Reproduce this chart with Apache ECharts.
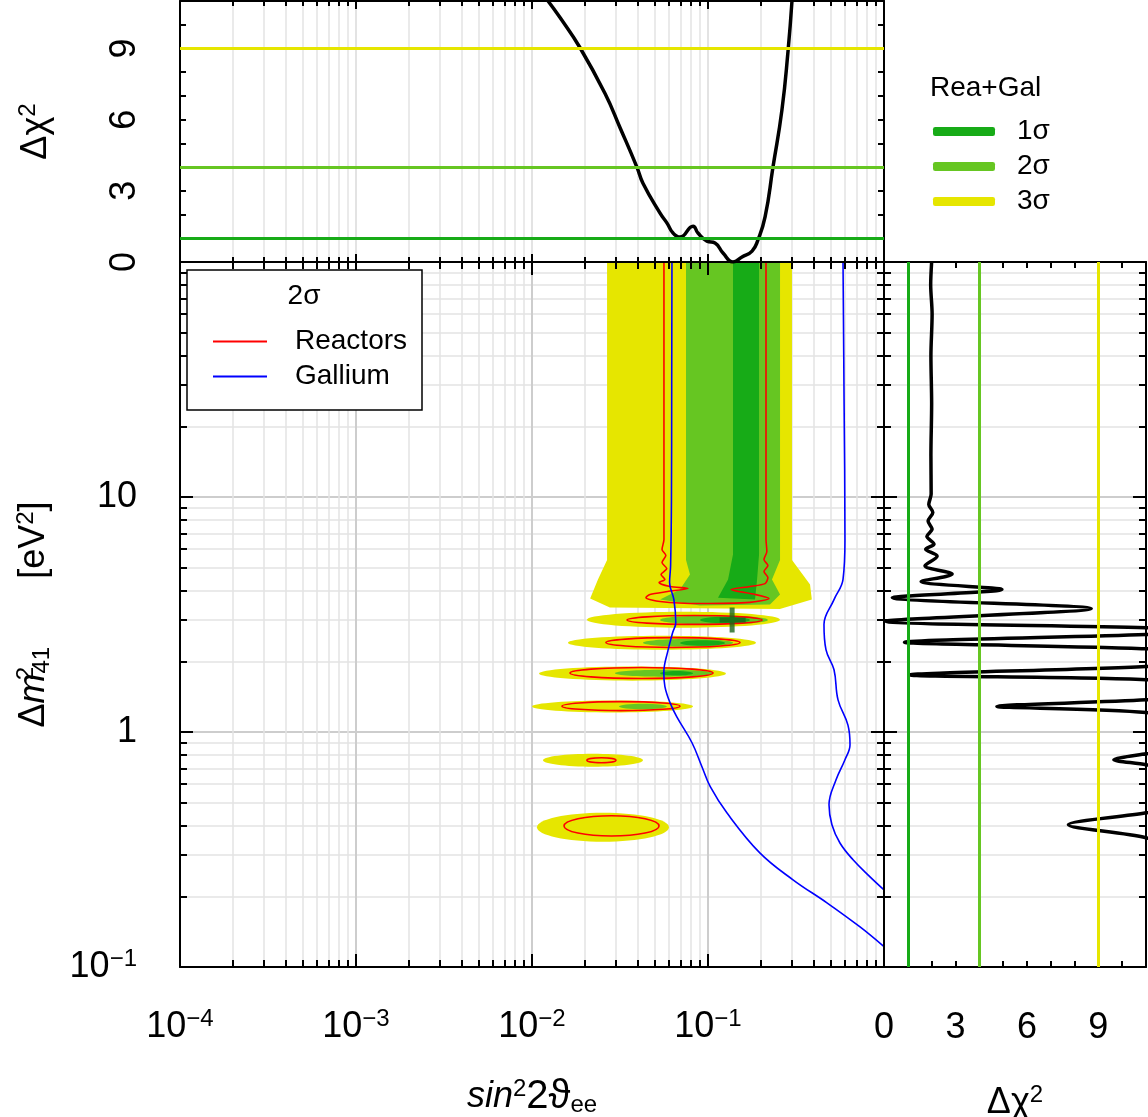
<!DOCTYPE html>
<html>
<head>
<meta charset="utf-8">
<script src="https://cdn.jsdelivr.net/npm/echarts@6/dist/echarts.min.js"></script>
<style>
  html, body { margin: 0; padding: 0; background: #fff; }
  #chart { width: 1148px; height: 1117px; }
</style>
</head>
<body>
<div id="chart"></div>
<script>
// ============================================================
// Rea+Gal: sin^2 2θee – Δm²41 plane with Δχ² profiles
// ============================================================

const FONT = '"Liberation Sans", Arial, "DejaVu Sans", sans-serif';

// ---- axis ticks / labels ----
const sinDecades = [0.0001, 0.001, 0.01, 0.1, 1];
const sinDecadeLabels = ['{b|10}{s|−4}', '{b|10}{s|−3}', '{b|10}{s|−2}', '{b|10}{s|−1}', ''];
const dmDecades = [0.1, 1, 10, 100];
const dmDecadeLabels = ['{b|10}{s|−1}', '{b|1}', '{b|10}', ''];
const minorSteps = [2, 3, 4, 5, 6, 7, 8, 9];
const chiTickLabels = [0, 3, 6, 9];

// ---- confidence levels (Rea+Gal) ----
const sigmaNames = ['1σ', '2σ', '3σ'];
const sigmaChi2 = [1, 4, 9];
const sigmaColors = ['#17ab17', '#66c622', '#e6e600'];

// ---- filled regions, [sin², Δm²] outlines ----
const band3 = [[0.0267, 100], [0.0267, 5.4], [0.0237, 4.46], [0.0214, 3.7], [0.0277, 3.39],
  [0.256, 3.34], [0.389, 3.66], [0.38, 4.24], [0.3, 5.4], [0.3, 100]];
const band2 = [[0.075, 100], [0.075, 5.4], [0.079, 4.68], [0.0693, 4.04], [0.0534, 3.66], [0.0901, 3.45],
  [0.225, 3.49], [0.2566, 3.85], [0.231, 4.46], [0.2566, 5.4], [0.2566, 100]];
const band1 = [[0.1387, 100], [0.1387, 5.69], [0.130, 4.46], [0.114, 3.73], [0.185, 3.66],
  [0.190, 4.46], [0.195, 5.69], [0.195, 100]];

// islands: [sinMin, sinMax, dmMin, dmMax]
const islands3 = [[0.0205, 0.2566, 2.78, 3.25], [0.0160, 0.1874, 2.24, 2.57], [0.01096, 0.1265, 1.654, 1.90],
  [0.0100, 0.0822, 1.21, 1.36], [0.01155, 0.0427, 0.712, 0.808], [0.01067, 0.060, 0.341, 0.453]];
const islands2 = [[0.0534, 0.219, 2.87, 3.13], [0.0427, 0.139, 2.31, 2.49], [0.0296, 0.1068, 1.72, 1.84],
  [0.0312, 0.0584, 1.25, 1.32]];
const islands1 = [[0.0901, 0.173, 2.90, 3.09], [0.0693, 0.125, 2.33, 2.46], [0.0534, 0.0822, 1.74, 1.82]];

// ---- Reactors 2σ contour ----
const reactorsBand = [[0.0562, 100], [0.0562, 6.6], [0.0548, 5.98], [0.0576, 5.64], [0.0548, 5.26], [0.0583, 4.96],
  [0.0541, 4.68], [0.0569, 4.46], [0.0527, 4.33], [0.0609, 4.16], [0.077, 4.08], [0.059, 3.96], [0.0468, 3.85],
  [0.0444, 3.73], [0.0534, 3.59], [0.0901, 3.52], [0.173, 3.56], [0.222, 3.70], [0.185, 3.85], [0.135, 4.04],
  [0.173, 4.16], [0.211, 4.28], [0.219, 4.54], [0.208, 4.82], [0.219, 5.11], [0.208, 5.42], [0.216, 5.86],
  [0.2136, 6.6], [0.2136, 100]];
const reactorsIslands = [[0.0347, 0.2027, 2.87, 3.13], [0.0263, 0.152, 2.29, 2.52], [0.01644, 0.1068, 1.69, 1.88],
  [0.01481, 0.0693, 1.233, 1.346], [0.0205, 0.030, 0.740, 0.777], [0.0152, 0.0527, 0.361, 0.44]];

// ---- Gallium 2σ contour (two branches) ----
const galliumLeft = [[0.0624, 100], [0.0622, 30], [0.062, 9.8], [0.0613, 5.1], [0.0605, 4.33], [0.064, 3.66],
  [0.0656, 2.92], [0.063, 2.65], [0.0594, 2.24], [0.0561, 1.79], [0.0569, 1.56], [0.0609, 1.33], [0.0665, 1.16],
  [0.0811, 0.90], [0.0925, 0.71], [0.103, 0.585], [0.128, 0.453], [0.197, 0.306], [0.304, 0.235],
  [0.474, 0.1875], [0.731, 0.148], [1.0, 0.122]];
const galliumRight = [[0.585, 100], [0.593, 26], [0.60, 6.6], [0.585, 4.46], [0.52, 3.66], [0.456, 2.87],
  [0.468, 2.24], [0.52, 1.84], [0.548, 1.37], [0.624, 1.07], [0.641, 0.883], [0.60, 0.762], [0.534, 0.626],
  [0.487, 0.49], [0.506, 0.403], [0.562, 0.337], [0.667, 0.286], [0.833, 0.242], [1.0, 0.213]];

const bestFit = [[0.138, 3.0]];

// ---- Δχ² profiles ----
// top: [sin², Δχ²]
const chi2VsSin = [[0.01233, 11.0], [0.01443, 10.3], [0.01875, 9.03], [0.026, 7.1], [0.0316, 5.67], [0.0395, 3.99],
  [0.0427, 3.32], [0.0534, 2.06], [0.0585, 1.64], [0.0633, 1.22], [0.0693, 1.05], [0.0822, 1.51], [0.0877, 1.22],
  [0.0987, 0.88], [0.1096, 0.80], [0.1217, 0.38], [0.1387, 0.0], [0.156, 0.21], [0.178, 0.46], [0.192, 0.92],
  [0.211, 1.9], [0.234, 4.0], [0.263, 6.4], [0.285, 8.9], [0.300, 11.0]];
// right: [Δχ², Δm²]
const chi2VsDm = [[2.0, 100], [1.96, 80], [2.02, 60], [1.97, 40], [2.0, 25], [1.97, 15], [1.98, 10.3], [1.88, 9.3],
  [2.05, 8.6], [1.85, 7.9], [2.02, 7.3], [1.8, 6.8], [2.1, 6.3], [1.75, 6.0], [2.23, 5.6], [1.72, 5.1], [2.86, 4.7],
  [1.56, 4.37], [4.95, 4.04], [0.35, 3.73], [8.7, 3.35], [0.07, 2.96], [11, 2.78], [14, 2.69], [11, 2.60],
  [0.86, 2.41], [11, 2.26], [16, 2.09], [11, 1.90], [1.09, 1.75], [11, 1.67], [16, 1.51], [11, 1.37],
  [4.74, 1.285], [11, 1.21], [16, 0.98], [11, 0.808], [9.65, 0.762], [11, 0.726], [16, 0.57], [11, 0.453],
  [7.74, 0.403], [11, 0.355], [20, 0.2], [25, 0.1]];

// ============================================================
// helpers
// ============================================================
const minorOf = decades => decades.slice(0, -1).flatMap(d => minorSteps.map(m => +(d * m).toPrecision(4)));
const sinMinor = minorOf(sinDecades);
const dmMinor = minorOf(dmDecades);
const SIN_RANGE = [0.0001, 1];
const DM_RANGE = [0.1, 100];
const CHI_RANGE = [0, 11];

const labelRich = {
  b: { fontSize: 36, lineHeight: 40, fontFamily: FONT, color: '#000' },
  s: { fontSize: 24, lineHeight: 18, verticalAlign: 'top', fontFamily: FONT, color: '#000' },
};
const nameRich = {
  b: { fontSize: 36, lineHeight: 40, fontFamily: FONT, color: '#000' },
  i: { fontSize: 36, lineHeight: 40, fontStyle: 'italic', fontFamily: FONT, color: '#000' },
  s: { fontSize: 24, lineHeight: 18, verticalAlign: 'top', fontFamily: FONT, color: '#000' },
  t: { fontSize: 24, lineHeight: 18, verticalAlign: 'top', width: 0, fontFamily: FONT, color: '#000' },
  u: { fontSize: 24, lineHeight: 16, verticalAlign: 'bottom', fontFamily: FONT, color: '#000' },
  w: { fontSize: 40, lineHeight: 40, fontFamily: FONT, color: '#000' },
  g: { width: 68 },
};

function decadeLabel(ticks, labels) {
  return v => {
    const i = ticks.findIndex(t => Math.abs(t - v) / t < 1e-6);
    return i < 0 ? '' : labels[i];
  };
}

const AXIS_LINE = { show: true, onZero: false, lineStyle: { color: '#000', width: 2 } };

function ticks(len, values) {
  const t = { show: true, inside: true, length: len, lineStyle: { color: '#000', width: 2 } };
  if (values) t.customValues = values;
  return t;
}

function axis(type, grid, pos, range, extra) {
  return Object.assign({
    type, gridIndex: grid, position: pos, min: range[0], max: range[1], z: 4, silent: true,
    axisLine: { show: false, onZero: false }, axisTick: { show: false },
    axisLabel: { show: false }, splitLine: { show: false },
  }, type === 'log' ? { logBase: 10 } : { interval: 1 }, extra);
}

function gridLines(grid, pos, range, values, color, width) {
  return axis('log', grid, pos, range, {
    z: 0,
    axisTick: values ? { show: false, customValues: values } : { show: false },
    splitLine: { show: true, lineStyle: { color, width } },
  });
}

// ============================================================
// axes
// ============================================================
const xAxes = [
  // main grid (0)
  axis('log', 0, 'bottom', SIN_RANGE, {
    axisLine: AXIS_LINE, axisTick: ticks(13),
    axisLabel: { show: true, margin: 40, formatter: decadeLabel(sinDecades, sinDecadeLabels), rich: labelRich },
    name: '{i|sin}{s|2}{w|2ϑ}{u|ee}', nameLocation: 'middle', nameGap: 110,
    nameTextStyle: { rich: nameRich },
  }),
  axis('log', 0, 'bottom', SIN_RANGE, { axisTick: ticks(7, sinMinor) }),
  axis('log', 0, 'top', SIN_RANGE, { axisLine: AXIS_LINE, axisTick: ticks(13) }),
  axis('log', 0, 'top', SIN_RANGE, { axisTick: ticks(7, sinMinor) }),
  gridLines(0, 'bottom', SIN_RANGE, sinMinor, '#e3e3e3', 1.5),
  gridLines(0, 'bottom', SIN_RANGE, null, '#cdcdcd', 2),
  // top grid (1)
  axis('log', 1, 'bottom', SIN_RANGE, { axisLine: AXIS_LINE, axisTick: ticks(8) }),
  axis('log', 1, 'bottom', SIN_RANGE, { axisTick: ticks(5, sinMinor) }),
  axis('log', 1, 'top', SIN_RANGE, { axisLine: AXIS_LINE, axisTick: ticks(8) }),
  axis('log', 1, 'top', SIN_RANGE, { axisTick: ticks(5, sinMinor) }),
  gridLines(1, 'bottom', SIN_RANGE, sinMinor, '#e3e3e3', 1.5),
  gridLines(1, 'bottom', SIN_RANGE, null, '#dadada', 1.5),
  // right grid (2)
  axis('value', 2, 'bottom', CHI_RANGE, {
    axisLine: AXIS_LINE, axisTick: ticks(6),
    axisLabel: {
      show: true, margin: 43, fontSize: 36, fontFamily: FONT, color: '#000',
      formatter: v => (chiTickLabels.includes(v) ? String(v) : ''),
    },
    name: '{b|Δχ}{s|2}', nameLocation: 'middle', nameGap: 116, nameTextStyle: { rich: nameRich },
  }),
  axis('value', 2, 'top', CHI_RANGE, { axisLine: AXIS_LINE, axisTick: ticks(6) }),
];

const yAxes = [
  // main grid (0)
  axis('log', 0, 'left', DM_RANGE, {
    axisLine: AXIS_LINE, axisTick: ticks(13),
    axisLabel: { show: true, margin: 43, formatter: decadeLabel(dmDecades, dmDecadeLabels), rich: labelRich },
    name: '{b|Δ}{i|m}{t|2}{u|41}{g| }{b|[eV}{s|2}{b|]}', nameLocation: 'middle', nameGap: 126, nameRotate: 90,
    nameTextStyle: { rich: nameRich },
  }),
  axis('log', 0, 'left', DM_RANGE, { axisTick: ticks(7, dmMinor) }),
  axis('log', 0, 'right', DM_RANGE, { axisLine: AXIS_LINE, axisTick: ticks(13) }),
  axis('log', 0, 'right', DM_RANGE, { axisTick: ticks(7, dmMinor) }),
  gridLines(0, 'left', DM_RANGE, dmMinor, '#e3e3e3', 1.5),
  gridLines(0, 'left', DM_RANGE, null, '#cdcdcd', 2),
  // top grid (1)
  axis('value', 1, 'left', CHI_RANGE, {
    axisLine: AXIS_LINE, axisTick: ticks(6),
    axisLabel: {
      show: true, rotate: 90, margin: 37, fontSize: 36, fontFamily: FONT, color: '#000',
      formatter: v => (chiTickLabels.includes(v) ? String(v) : ''),
    },
    name: '{b|Δχ}{s|2}', nameLocation: 'middle', nameGap: 124, nameRotate: 90,
    nameTextStyle: { rich: nameRich },
  }),
  axis('value', 1, 'right', CHI_RANGE, { axisLine: AXIS_LINE, axisTick: ticks(6) }),
  // right grid (2)
  axis('log', 2, 'left', DM_RANGE, { axisLine: AXIS_LINE, axisTick: ticks(13) }),
  axis('log', 2, 'left', DM_RANGE, { axisTick: ticks(7, dmMinor) }),
  axis('log', 2, 'right', DM_RANGE, { axisLine: AXIS_LINE, axisTick: ticks(13) }),
  axis('log', 2, 'right', DM_RANGE, { axisTick: ticks(7, dmMinor) }),
  gridLines(2, 'left', DM_RANGE, dmMinor, '#e3e3e3', 1.5),
  gridLines(2, 'left', DM_RANGE, null, '#cdcdcd', 2),
];

// ============================================================
// series
// ============================================================
function polygonSeries(name, color, shapes) {
  return {
    type: 'custom', name, xAxisIndex: 0, yAxisIndex: 0, silent: true,
    itemStyle: { color },
    data: shapes.map(s => s[0]),
    renderItem(params, api) {
      const pts = shapes[params.dataIndex].map(p => api.coord(p));
      return { type: 'polygon', shape: { points: pts }, style: { fill: color } };
    },
  };
}

function ellipseSeries(name, boxes, style, z) {
  return {
    type: 'custom', name, xAxisIndex: 0, yAxisIndex: 0, silent: true, z: z || 2,
    itemStyle: { color: style.fill !== 'none' ? style.fill : style.stroke },
    data: boxes.map(b => [b[0], b[2]]),
    renderItem(params, api) {
      const b = boxes[params.dataIndex];
      const p1 = api.coord([b[0], b[2]]);
      const p2 = api.coord([b[1], b[3]]);
      return {
        type: 'ellipse',
        shape: {
          cx: (p1[0] + p2[0]) / 2, cy: (p1[1] + p2[1]) / 2,
          rx: Math.abs(p2[0] - p1[0]) / 2, ry: Math.abs(p2[1] - p1[1]) / 2,
        },
        style,
      };
    },
  };
}

function contourLine(name, color, data, smooth) {
  return {
    type: 'line', name, xAxisIndex: 0, yAxisIndex: 0, data, smooth, symbol: 'none', z: 3, silent: true,
    itemStyle: { color }, lineStyle: { color, width: 1.6 },
  };
}

const sigmaMarks = axisKey => ({
  silent: true, symbol: 'none', label: { show: false },
  data: sigmaChi2.map((v, i) => ({ [axisKey]: v, lineStyle: { color: sigmaColors[i], width: 3, type: 'solid' } })),
});

const series = [
  polygonSeries('3σ', sigmaColors[2], [band3]),
  ellipseSeries('3σ', islands3, { fill: sigmaColors[2] }),
  polygonSeries('2σ', sigmaColors[1], [band2]),
  ellipseSeries('2σ', islands2, { fill: sigmaColors[1] }),
  polygonSeries('1σ', sigmaColors[0], [band1]),
  ellipseSeries('1σ', islands1, { fill: sigmaColors[0] }),
  contourLine('Reactors', '#ff0000', reactorsBand, 0.25),
  ellipseSeries('Reactors islands', reactorsIslands, { fill: 'none', stroke: '#ff0000', lineWidth: 1.6 }, 3),
  contourLine('Gallium', '#0000ff', galliumLeft, 0.4),
  contourLine('Gallium', '#0000ff', galliumRight, 0.4),
  {
    type: 'scatter', name: 'best fit', xAxisIndex: 0, yAxisIndex: 0, z: 5, silent: true,
    data: bestFit, symbol: 'path://M10,0 H15 V10 H26 V15 H15 V25 H10 V15 H0 V10 H10 Z', symbolSize: [26, 25],
    itemStyle: { color: '#1b661b' },
  },
  {
    type: 'line', name: 'Δχ² sin', xAxisIndex: 6, yAxisIndex: 6, data: chi2VsSin, smooth: 0.5,
    symbol: 'none', silent: true, z: 3, lineStyle: { color: '#000', width: 3.5 }, itemStyle: { color: '#000' },
    markLine: sigmaMarks('yAxis'),
  },
  {
    type: 'line', name: 'Δχ² dm', xAxisIndex: 12, yAxisIndex: 8, data: chi2VsDm, smooth: 0.3,
    symbol: 'none', silent: true, z: 3, lineStyle: { color: '#000', width: 3.5 }, itemStyle: { color: '#000' },
    markLine: sigmaMarks('xAxis'),
  },
];

// ============================================================
// chart
// ============================================================
const chart = echarts.init(document.getElementById('chart'));

chart.setOption({
  animation: false,
  backgroundColor: '#fff',
  textStyle: { fontFamily: FONT },
  grid: [
    { left: 180, top: 262, width: 704, height: 705, outerBoundsMode: 'none' },
    { left: 180, top: 1, width: 704, height: 261, outerBoundsMode: 'none' },
    { left: 884, top: 262, width: 262, height: 705, outerBoundsMode: 'none' },
  ],
  xAxis: xAxes,
  yAxis: yAxes,
  legend: [
    {
      data: ['Reactors', 'Gallium'], orient: 'vertical', left: 213, top: 324, padding: 0, itemGap: 0,
      itemWidth: 54, itemHeight: 2, icon: 'rect', selectedMode: false, z: 7,
      textStyle: { fontSize: 28, fontFamily: FONT, color: '#000', lineHeight: 35, padding: [0, 0, 0, 23] },
    },
    {
      data: sigmaNames, orient: 'vertical', left: 933, top: 114, padding: 0, itemGap: 0,
      itemWidth: 62, itemHeight: 9, icon: 'roundRect', selectedMode: false,
      textStyle: { fontSize: 28, fontFamily: FONT, color: '#000', lineHeight: 35, padding: [0, 0, 0, 17] },
    },
  ],
  graphic: [
    {
      type: 'rect', z: 6, silent: true,
      shape: { x: 187, y: 270, width: 235, height: 140 },
      style: { fill: '#fff', stroke: '#000', lineWidth: 1.5 },
    },
    {
      type: 'text', z: 7, silent: true,
      style: { x: 304, y: 296, text: '2σ', fontSize: 28, fontFamily: FONT, fill: '#000', align: 'center', verticalAlign: 'middle' },
    },
    {
      type: 'text', z: 7, silent: true,
      style: { x: 930, y: 88, text: 'Rea+Gal', fontSize: 28, fontFamily: FONT, fill: '#000', align: 'left', verticalAlign: 'middle' },
    },
  ],
  series,
});

window.addEventListener('resize', () => chart.resize());
</script>
</body>
</html>
